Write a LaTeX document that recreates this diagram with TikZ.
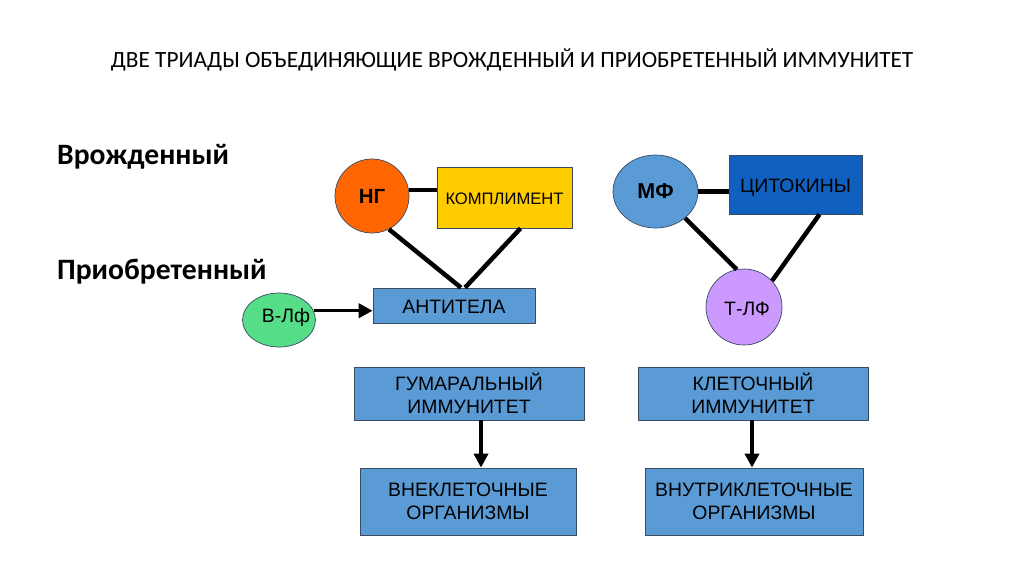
\documentclass[tikz,border=0pt]{standalone}
\usepackage{fontspec}
\setmainfont{Liberation Sans}
\newfontfamily\headfont{Carlito}
\usepackage{xcolor}
\usepackage{tikz}
\usetikzlibrary{shapes.geometric, arrows.meta, positioning, calc}
\definecolor{boxblue}{HTML}{5B9BD5}
\definecolor{cytoblue}{HTML}{1060C0}
\definecolor{ngorange}{HTML}{FF6600}
\definecolor{compyellow}{HTML}{FFCC00}
\definecolor{bgreen}{HTML}{55DD88}
\definecolor{tviolet}{HTML}{CC99FF}
\definecolor{edge}{HTML}{3A4A60}
\tikzstyle{box} = [rectangle, draw=edge, line width=0.7pt, fill=boxblue, inner sep=0pt, align=center, font=\fontsize{19.4}{23}\selectfont]
\tikzstyle{solo} = [rectangle, draw=edge, line width=0.7pt, fill=boxblue, inner sep=0pt, text height=15pt, text depth=0pt, font=\fontsize{19.4}{23}\selectfont]
\tikzstyle{cell} = [ellipse, draw=edge, line width=0.7pt, inner sep=0pt, font=\fontsize{19.4}{22}\selectfont]
\tikzstyle{link} = [line width=4.5pt]
\tikzstyle{arrow} = [line width=3.5pt, -{Triangle[length=14pt,width=14pt]}]

\begin{document}
\begin{tikzpicture}[x=1pt, y=-1pt]
        \useasboundingbox (0,0) rectangle (1024,576);

        % Title and row labels
        \node (title) at (512,60) {\headfont\fontsize{23.3}{26}\selectfont ДВЕ ТРИАДЫ ОБЪЕДИНЯЮЩИЕ ВРОЖДЕННЫЙ И ПРИОБРЕТЕННЫЙ ИММУНИТЕТ};
        \node[anchor=west, inner sep=0pt] (innate) at (57,157) {\headfont\bfseries\fontsize{29.6}{32}\selectfont Врожденный};
        \node[anchor=west, inner sep=0pt] (acquired) at (57,272) {\headfont\bfseries\fontsize{29.6}{32}\selectfont Приобретенный};

        % Left triad
        \node[cell, circle, minimum size=74pt, fill=ngorange, font=\fontsize{20.5}{22}\selectfont\bfseries] (ng) at (372,196) {НГ};
        \node[solo, fill=compyellow, minimum width=135pt, minimum height=61pt, text height=13pt, font=\fontsize{16.6}{20}\selectfont] (kompl) at (504.5,197.5) {КОМПЛИМЕНТ};
        \node[solo, minimum width=162pt, minimum height=35pt] (anti) at (454,305.5) {АНТИТЕЛА};
        \node[cell, minimum width=73pt, minimum height=54pt, fill=bgreen, label={[xshift=7pt, yshift=3pt, font=\fontsize{19.4}{22}\selectfont]center:В-Лф}] (vlf) at (279,320) {};
        \draw[link] (ng.9) -- (kompl.west |- ng.9);
        \draw[link] (ng.-63) -- ([xshift=7]anti.north);
        \draw[link] ([xshift=16]kompl.south) -- ([xshift=11]anti.north);
        \draw[arrow] (vlf.15) -- (anti.west |- vlf.15);

        % Right triad
        \node[cell, minimum width=85pt, minimum height=73pt, fill=boxblue, font=\fontsize{21.5}{22}\selectfont\bfseries] (mf) at (655.5,191.5) {МФ};
        \node[solo, fill=cytoblue, minimum width=133pt, minimum height=59pt, text height=16.5pt] (cyto) at (795.5,184.5) {ЦИТОКИНЫ};
        \node[cell, circle, minimum size=76pt, fill=tviolet, label={[xshift=3pt, yshift=-2pt, font=\fontsize{19.4}{22}\selectfont]center:Т-ЛФ}] (tlf) at (744,307) {};
        \draw[link] (mf.east) -- (cyto.west |- mf.east);
        \draw[link] (mf.-42) -- (tlf.101);
        \draw[link] ([xshift=24]cyto.south) -- (tlf.43);

        % Immunity types and targets
        \node[box, minimum width=230pt, minimum height=53pt] (humoral) at (469,393.5) {ГУМАРАЛЬНЫЙ\\ИММУНИТЕТ};
        \node[box, minimum width=216pt, minimum height=67pt] (extra) at (468,501.5) {ВНЕКЛЕТОЧНЫЕ\\ОРГАНИЗМЫ};
        \node[box, minimum width=230pt, minimum height=53pt] (cellular) at (753,393.5) {КЛЕТОЧНЫЙ\\ИММУНИТЕТ};
        \node[box, minimum width=218pt, minimum height=67pt] (intra) at (754,501.5) {ВНУТРИКЛЕТОЧНЫЕ\\ОРГАНИЗМЫ};
        \draw[arrow] ([xshift=12]humoral.south) -- ([xshift=13]extra.north);
        \draw[arrow] ([xshift=-1]cellular.south) -- ([xshift=-2]intra.north);

    \end{tikzpicture}
\end{document}
